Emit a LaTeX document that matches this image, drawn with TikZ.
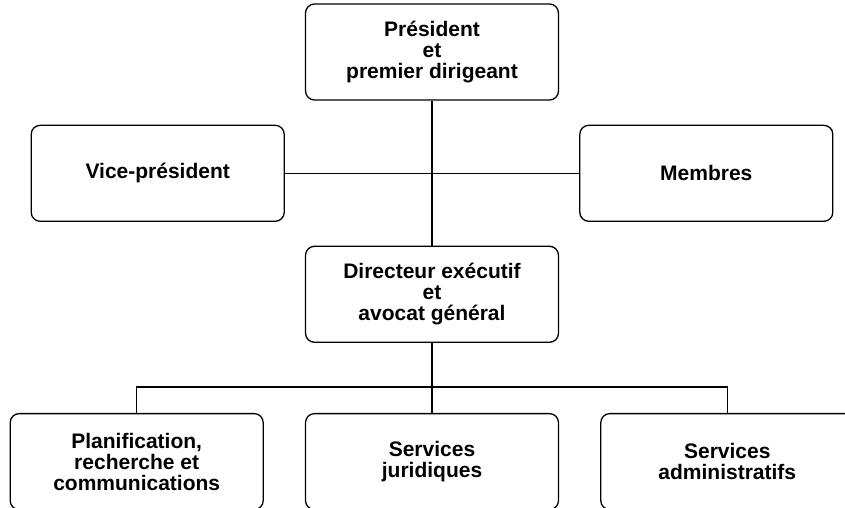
\documentclass[tikz,border=0pt]{standalone}
\usepackage{fontspec}
\setmainfont{Liberation Sans}
\usetikzlibrary{positioning}

\begin{document}
\begin{tikzpicture}[x=1pt, y=-1pt, line width=1.3pt,
    every node/.style={draw, rounded corners=9pt, align=center, inner sep=0pt,
        minimum width=253pt, minimum height=96pt, font=\bfseries\fontsize{21}{21}\selectfont}]
    \useasboundingbox (0,0) rectangle (845,507);
    \node (1) at (432,52) {Président\\et\\premier dirigeant};
    \node (2) [below left=24pt and 20pt of 1] {Vice-président};
    \node (3) [below right=24pt and 20pt of 1] {Membres};
    \node (4) [below=145pt of 1] {Directeur exécutif\\et\\avocat général};
    \node (6) [below=70pt of 4] {Services\\juridiques};
    \node (5) [left=41pt of 6] {Planification,\\recherche et\\communications};
    \node (7) [right=41pt of 6] {Services\\administratifs};
    \coordinate [below=44pt of 4] (bus);

    \draw (1) -- (4);
    \draw (2) -- (3);
    \draw (4) -- (bus);
    \draw (5.north) |- (bus) -| (7.north);
    \draw (bus) -- (6);
\end{tikzpicture}
\end{document}
